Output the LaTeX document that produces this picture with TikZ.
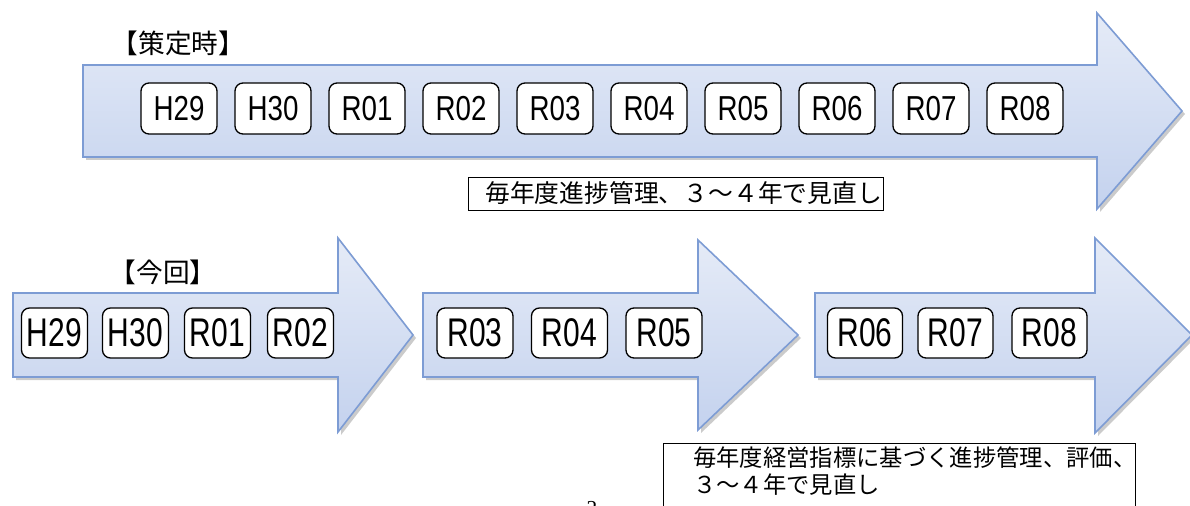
\documentclass[tikz,border=0pt]{standalone}
\usepackage{fontspec}
\setmainfont{Liberation Serif}
\newfontfamily\cjk{Noto Sans CJK JP}
\newfontfamily\yrA[FakeStretch=0.8]{Liberation Sans}
\newfontfamily\yrB[FakeStretch=0.75]{Liberation Sans}
\definecolor{arrTop}{RGB}{229,235,247}
\definecolor{arrBot}{RGB}{196,210,238}
\definecolor{arrLine}{RGB}{125,156,212}
\newcommand\fatarrow[8]{%
  \begin{scope}[shift={(3,3)}]
    \fill[black!45,opacity=0.45] (#1,#2) -- (#4,#2) -- (#4,#5) -- (#7,#8) -- (#4,#6) -- (#4,#3) -- (#1,#3) -- cycle;
  \end{scope}
  \path[arrowbody] (#1,#2) -- (#4,#2) -- (#4,#5) -- (#7,#8) -- (#4,#6) -- (#4,#3) -- (#1,#3) -- cycle;
}
\tikzset{
  arrowbody/.style={top color=arrTop, bottom color=arrBot, draw=arrLine, line width=1.2pt, line join=miter},
  yrbox/.style={draw=black, fill=white, line width=1pt, rounded corners=6pt, inner sep=0pt},
  toprow/.style={yrbox, minimum width=57pt, minimum height=38.25pt, font=\yrA\fontsize{26}{26}\selectfont},
  botrow/.style={yrbox, minimum height=37.5pt, font=\yrB\fontsize{30}{30}\selectfont},
  heading/.style={font=\cjk\fontsize{20}{20}\selectfont, inner sep=0pt},
  notebox/.style={draw=black, line width=1pt, fill=white}
}
\begin{document}
\begin{tikzpicture}[x=0.75pt,y=-0.75pt]
\useasboundingbox (0,0) rectangle (1190,506);
% arrows
\fatarrow{83}{65}{157}{1097}{13}{209}{1182}{111}
\fatarrow{13}{293}{377}{338}{238}{432}{413}{335}
\fatarrow{423}{293}{377}{698}{240}{430}{798}{335}
\fatarrow{815}{293}{377}{1095}{238}{433}{1192}{335}
% headings
\node[heading] (h1) at (178.5,43) {【策定時】};
\node[heading] (h2) at (163,272) {【今回】};
% top row years
\foreach \t [count=\i from 0] in {H29,H30,R01,R02,R03,R04,R05,R06,R07,R08}
  \node[toprow] (t\t) at ({179+94*\i},108.5) {\t};
% bottom rows
\foreach \t/\x in {H29/54.5,H30/135.5,R01/217.5,R02/300.5}
  \node[botrow, minimum width=49.5pt] (a\t) at (\x,333) {\t};
\foreach \t/\x in {R03/475,R04/569.5,R05/664}
  \node[botrow, minimum width=57pt] (b\t) at (\x,333) {\t};
\foreach \t/\x in {R06/865,R07/955.5,R08/1049.5}
  \node[botrow, minimum width=56.25pt] (c\t) at (\x,333) {\t};
% notes
\node[notebox, anchor=north west, minimum width=311.25pt, minimum height=24.75pt, inner sep=0pt] (n1box) at (468,177) {};
\node[font=\cjk\fontsize{18.6}{18.6}\selectfont, anchor=west, inner sep=0pt] (n1) at (485,193.5) {毎年度進捗管理、３～４年で見直し};
\node[notebox, anchor=north west, minimum width=354pt, minimum height=60pt, inner sep=0pt] (n2box) at (663,443) {};
\node[font=\cjk\fontsize{17.5}{20.25}\selectfont, anchor=north west, align=left, inner sep=0pt] (n2) at (693,447) {毎年度経営指標に基づく進捗管理、評価、\\３～４年で見直し};
\node[font=\fontsize{16}{16}\selectfont, anchor=north, inner sep=0pt] (pg) at (592,501) {2};
\end{tikzpicture}
\end{document}
